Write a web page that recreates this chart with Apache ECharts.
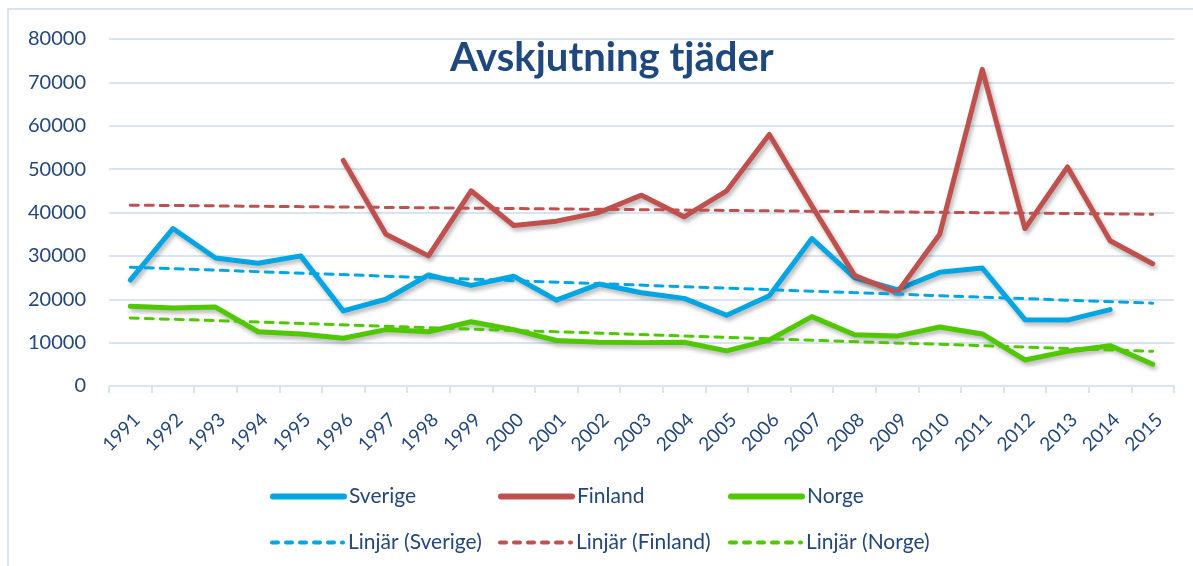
<!DOCTYPE html>
<html>
<head>
<meta charset="utf-8">
<script src="https://cdn.jsdelivr.net/npm/echarts@6/dist/echarts.min.js"></script>
<style>
html,body{margin:0;padding:0;background:#fff;}
#chart{width:1193px;height:566px;}
</style>
</head>
<body>
<div id="chart"></div>
<script>
const years = ['1991','1992','1993','1994','1995','1996','1997','1998','1999','2000','2001','2002','2003','2004','2005','2006','2007','2008','2009','2010','2011','2012','2013','2014','2015'];
const sverige = [24400,36300,29500,28300,30000,17300,20000,25600,23200,25300,19800,23500,21500,20200,16300,20800,34000,25000,22200,26200,27200,15300,15200,17600,null];
const finland = [null,null,null,null,null,52000,35000,30000,45000,37000,38000,40000,44000,39000,45000,58000,41500,25500,21500,35000,73000,36300,50500,33500,28200];
const norge = [18400,18000,18200,12500,12000,11000,13000,12500,14800,13000,10500,10100,10000,10100,8100,10600,16000,11800,11500,13600,12000,6000,8000,9300,5000];
// Trend lines (Excel "Linjär"), endpoint values
const trendSverige = [27400,null,null,null,null,null,null,null,null,null,null,null,null,null,null,null,null,null,null,null,null,null,null,null,19100];
const trendFinland = [41700,null,null,null,null,null,null,null,null,null,null,null,null,null,null,null,null,null,null,null,null,null,null,null,39600];
const trendNorge = [15700,null,null,null,null,null,null,null,null,null,null,null,null,null,null,null,null,null,null,null,null,null,null,null,8000];
const yTicks = [0,10000,20000,30000,40000,50000,60000,70000,80000];

const FONT = 'Lato';
const TXT = '#24477A';
const C_S = '#00A6E4', C_F = '#C0504D', C_N = '#4FC800';
const GRIDC = '#D9E4F3';

const chart = echarts.init(document.getElementById('chart'), null, {renderer:'canvas'});

function solid(name, data, color){
  return {name, type:'line', data, symbol:'none', smooth:false, connectNulls:false,
    lineStyle:{color, width:5, cap:'round', join:'round', shadowColor:'rgba(0,0,0,0.3)', shadowBlur:4, shadowOffsetX:2, shadowOffsetY:3},
    itemStyle:{color}, z:2};
}
function trend(name, data, color){
  return {name, type:'line', data, symbol:'none', connectNulls:true,
    lineStyle:{color, width:3, type:[8,7], cap:'round'}, itemStyle:{color}, z:3};
}
function leg(name, left, top, dashed){
  return {data:[name], left, top, itemWidth:71, itemHeight:14, itemGap:0, padding:0,
    itemStyle:{color:'rgba(0,0,0,0)', borderWidth:0, opacity:0},
    lineStyle: dashed ? {width:4, type:[6,8], cap:'round'} : {width:6, cap:'round', shadowBlur:0, shadowOffsetX:0, shadowOffsetY:0},
    textStyle:{fontFamily:FONT, fontSize:21, color:TXT}, selectedMode:false};
}

chart.setOption({
  animation:false,
  backgroundColor:'#fff',
  title:{text:'Avskjutning tjäder', left:445, top:33,
    textStyle:{fontFamily:FONT, fontSize:40, fontWeight:'bold', color:'#1F497D'}},
  graphic:[{type:'rect', shape:{x:8, y:9, width:1300, height:700}, style:{fill:'none', stroke:GRIDC, lineWidth:2}, silent:true, z:-10}],
  grid:{left:109, right:19, top:39, bottom:180, containLabel:false},
  xAxis:{type:'category', data:years, boundaryGap:true,
    axisLine:{lineStyle:{color:GRIDC, width:2}},
    axisTick:{show:true, length:7, lineStyle:{color:GRIDC, width:2}},
    axisLabel:{rotate:45, margin:24, verticalAlign:'top', fontFamily:FONT, fontSize:19, color:TXT, interval:0}},
  yAxis:{type:'value', min:yTicks[0], max:yTicks[yTicks.length-1], interval:10000,
    axisLine:{show:false}, axisTick:{show:false},
    splitLine:{lineStyle:{color:GRIDC, width:2}},
    axisLabel:{margin:23, fontFamily:FONT, fontSize:20, color:TXT, formatter:v=>String(v)}},
  legend:[
    leg('Sverige',270,486,false), leg('Finland',498,486,false), leg('Norge',728,486,false),
    leg('Linjär (Sverige)',270,532,true), leg('Linjär (Finland)',498,532,true), leg('Linjär (Norge)',728,532,true)
  ],
  series:[
    solid('Sverige', sverige, C_S),
    solid('Finland', finland, C_F),
    solid('Norge', norge, C_N),
    trend('Linjär (Sverige)', trendSverige, C_S),
    trend('Linjär (Finland)', trendFinland, C_F),
    trend('Linjär (Norge)', trendNorge, C_N)
  ]
});
</script>
</body>
</html>
